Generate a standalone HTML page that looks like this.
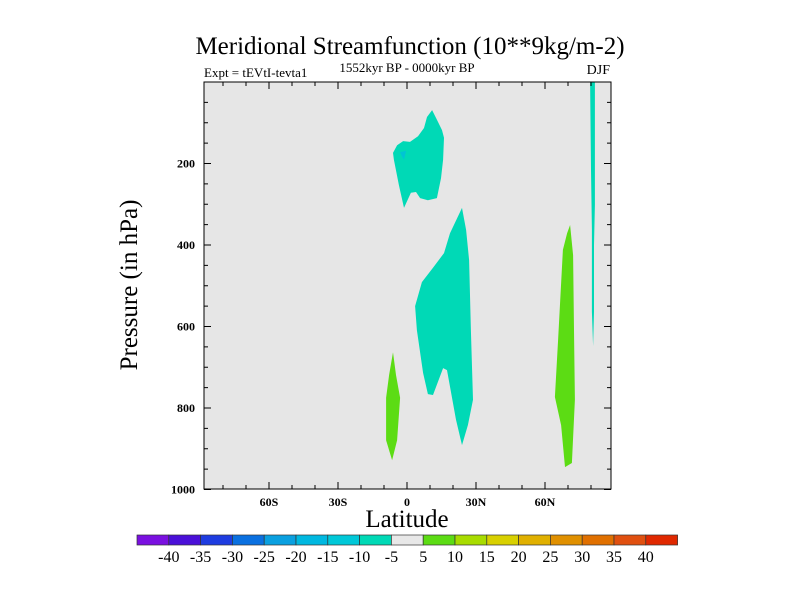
<!DOCTYPE html>
<html><head><meta charset="utf-8"><style>
body{margin:0;background:#fff}
svg{display:block;font-family:"Liberation Serif",serif}
</style></head><body>
<svg id="chart" width="800" height="600" viewBox="0 0 800 600">
<text x="410" y="54" font-size="25" text-anchor="middle">Meridional Streamfunction (10**9kg/m-2)</text>
<text x="204" y="77" font-size="13">Expt = tEVtI-tevta1</text>
<text x="407" y="72" font-size="13" text-anchor="middle">1552kyr BP - 0000kyr BP</text>
<text x="610" y="74" font-size="14" text-anchor="end">DJF</text>
<rect x="204" y="82" width="407" height="407" fill="#e6e6e6"/>
<g id="shapes"></g>
<rect x="204" y="82" width="407" height="407" fill="none" stroke="#000" stroke-width="1"/>
<g id="ticks"></g>
<text transform="translate(137,285) rotate(-90)" font-size="25" text-anchor="middle">Pressure (in hPa)</text>
<text x="407" y="527" font-size="25" text-anchor="middle">Latitude</text>
<g id="cbar"></g>
</svg>
<script>
const latTicks=[-60,-30,0,30,60];
const latLabels=["60S","30S","0","30N","60N"];
const presTicks=[200,400,600,800,1000];
const cbarLevels=[-40,-35,-30,-25,-20,-15,-10,-5,5,10,15,20,25,30,35,40];
const cbarColors=["#7a10e0","#4a10d8","#1e3ce0","#0a70e0","#0aa0e0","#00b8e0","#00c8d8","#00d9b6","#e8e8e8","#5cdc14","#a8dc00","#d8d000","#e0b000","#e09000","#e07000","#e05010","#e02800"];
const shapeA=[[-6.1,174],[-4.3,155],[-1.7,145],[1.3,147],[4.8,133],[7.4,113],[8.7,86],[10.9,69],[12.6,88],[15.2,118],[16.1,137],[15.7,191],[14.8,236],[13.0,285],[9.1,290],[5.7,285],[3.9,270],[1.7,272],[-1.3,309],[-3.5,253],[-5.7,191]];
const patchA=[[-3.0,172],[-0.4,169],[-1.3,191],[-2.2,182]];
const shapeB=[[23.9,309],[25.7,363],[27.0,437],[27.8,609],[28.7,780],[26.5,842],[23.9,891],[21.3,829],[17.4,707],[15.7,702],[11.3,768],[9.1,766],[7.0,714],[4.3,609],[3.5,550],[6.5,491],[11.3,456],[16.1,420],[18.7,371]];
const shapeC=[[-6.1,663],[-4.8,719],[-3.0,775],[-4.3,879],[-6.5,928],[-9.1,879],[-9.1,775],[-7.8,719]];
const shapeD=[[70.9,351],[72.2,425],[72.6,609],[73.0,780],[71.7,935],[68.7,945],[67.0,842],[64.3,773],[65.7,633],[67.8,412],[69.6,371]];
const shapeE=[[79.6,0],[81.7,0],[81.7,302],[81.3,400],[81.3,564],[80.9,648],[80.4,564],[80.4,363],[80.0,216]];
const NS="http://www.w3.org/2000/svg";
const xS=lat=>407+lat*2.3;
const yS=p=>82+p*0.4075;
function poly(pts,fill,name){
  const el=document.createElementNS(NS,"polygon");
  el.setAttribute("points",pts.map(q=>xS(q[0]).toFixed(1)+","+yS(q[1]).toFixed(1)).join(" "));
  el.setAttribute("fill",fill);
  
  
  document.getElementById("shapes").appendChild(el);
}
poly(shapeA,"#00d9b6","contour-upper-negative");
poly(patchA,"#00c4d4","contour-upper-patch");
poly(shapeB,"#00d9b6","contour-mid-negative");
poly(shapeC,"#5cdc14","contour-equator-positive");
poly(shapeD,"#5cdc14","contour-north-positive");
poly(shapeE,"#00d9b6","contour-polar-negative");
const tg=document.getElementById("ticks");
function line(x1,y1,x2,y2,name){
  const l=document.createElementNS(NS,"line");
  l.setAttribute("x1",x1);l.setAttribute("y1",y1);l.setAttribute("x2",x2);l.setAttribute("y2",y2);
  l.setAttribute("stroke","#000");l.setAttribute("stroke-width","1");
  
  
  tg.appendChild(l);
}
function txt(x,y,s,anchor,size,bold,name,parent){
  const t=document.createElementNS(NS,"text");
  t.setAttribute("x",x);t.setAttribute("y",y);t.setAttribute("text-anchor",anchor);
  t.setAttribute("font-size",size);
  if(bold)t.setAttribute("font-weight","bold");
  t.textContent=s;
  
  
  parent.appendChild(t);
}
for(let lat=-80;lat<=80;lat+=10){
  const x=xS(lat), major=lat%30===0;
  line(x,489,x,489-(major?7:4),"x-tick");
  line(x,82,x,82+(major?7:4),"x-tick-top");
}
latTicks.forEach((v,i)=>txt(xS(v),506,latLabels[i],"middle",12,true,"x-tick-label",tg));
for(let p=50;p<=1000;p+=50){
  const y=yS(p), major=p%200===0;
  line(204,y,204+(major?7:4),y,"y-tick");
  line(611,y,611-(major?7:4),y,"y-tick-right");
}
presTicks.forEach(v=>txt(195,yS(v)+4,String(v),"end",12,true,"y-tick-label",tg));
const cb=document.getElementById("cbar");
const bw=31.8;
cbarColors.forEach((c,i)=>{
  const r=document.createElementNS(NS,"rect");
  r.setAttribute("x",137+i*bw);r.setAttribute("y",535);r.setAttribute("width",bw);r.setAttribute("height",10);
  r.setAttribute("fill",c);r.setAttribute("stroke","#333");r.setAttribute("stroke-width","0.7");
  
  
  cb.appendChild(r);
});
cbarLevels.forEach((v,i)=>txt(137+(i+1)*bw,562,String(v),"middle",16,false,"colorbar-label",cb));
</script>
</body></html>
